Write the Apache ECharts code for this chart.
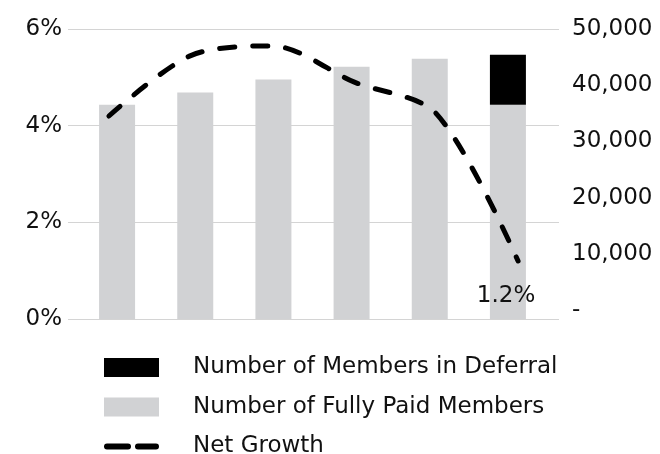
<!DOCTYPE html>
<html><head><meta charset="utf-8">
<script src="https://cdn.jsdelivr.net/npm/echarts@6/dist/echarts.min.js"></script>
<style>html,body{margin:0;padding:0;background:#fff}#c{width:660px;height:454px}</style>
</head><body><div id="c"></div>
<script>
const categories = ['Year 1', 'Year 2', 'Year 3', 'Year 4', 'Year 5', 'Year 6'];
const fullyPaidMembers = [36500, 38700, 41000, 43300, 44700, 36500];
const deferralMembers = [null, null, null, null, null, 8900];
const netGrowthPct = [4.2, 5.45, 5.65, 4.9, 4.25, 1.2];
const pctTicks = [0, 2, 4, 6];
const memberTicks = [0, 10000, 20000, 30000, 40000, 50000];
const memberAxisMin = -1600;
const seriesNames = ['Number of Members in Deferral', 'Number of Fully Paid Members', 'Net Growth'];

const FONT = 'DejaVu Sans';
const FS = 23;
const TXT = '#111111';
const DASH_ICON = 'path://M3,0 H24 A3,3 0 0 1 24,6 H3 A3,3 0 0 1 3,0 Z M34,0 H52 A3,3 0 0 1 52,6 H34 A3,3 0 0 1 34,0 Z';
const chart = echarts.init(document.getElementById('c'), null, {renderer: 'canvas'});
const lastIdx = netGrowthPct.length - 1;
chart.setOption({
  animation: false,
  textStyle: {fontFamily: FONT},
  grid: [
    {left: 68, right: 101, top: 29, bottom: 135},
    {left: 78, right: 113, top: 29, bottom: 135}
  ],
  xAxis: [
    {type: 'category', gridIndex: 0, data: categories, boundaryGap: true,
     axisLine: {show: false}, axisTick: {show: false}, axisLabel: {show: false}, splitLine: {show: false}},
    {type: 'category', gridIndex: 1, data: categories,
     axisLine: {show: false}, axisTick: {show: false}, axisLabel: {show: false}, splitLine: {show: false}}
  ],
  yAxis: [
    {type: 'value', gridIndex: 0, position: 'left',
     min: pctTicks[0], max: pctTicks[pctTicks.length - 1], interval: pctTicks[1] - pctTicks[0],
     axisLine: {show: false}, axisTick: {show: false},
     splitLine: {show: true, lineStyle: {color: '#d4d4d4', width: 1}},
     axisLabel: {formatter: '{value}%', margin: 6, fontSize: FS, color: TXT, fontFamily: FONT}},
    {type: 'value', gridIndex: 0, position: 'right',
     min: memberAxisMin, max: memberTicks[memberTicks.length - 1],
     axisLine: {show: false}, axisTick: {show: false}, splitLine: {show: false},
     axisLabel: {customValues: memberTicks, margin: 13, fontSize: FS, color: TXT, fontFamily: FONT,
       formatter: v => v === 0 ? '-' : v.toLocaleString('en-US')}},
    {type: 'value', gridIndex: 1, min: memberAxisMin, max: memberTicks[memberTicks.length - 1],
     startValue: memberAxisMin, show: false, splitLine: {show: false}}
  ],
  legend: {
    orient: 'vertical', left: 104, top: 356, height: 200, padding: 0,
    itemWidth: 55, itemHeight: 19, itemGap: 16.5,
    textStyle: {fontSize: FS, color: TXT, fontFamily: FONT, padding: [0, 0, 0, 29]},
    data: [
      {name: seriesNames[0], icon: 'rect', itemStyle: {color: '#000000'}},
      {name: seriesNames[1], icon: 'rect', itemStyle: {color: '#d1d2d4'}},
      {name: seriesNames[2], icon: DASH_ICON,
       itemStyle: {color: '#000000', borderWidth: 0, opacity: 1},
       lineStyle: {width: 0, opacity: 0}}
    ]
  },
  series: [
    {name: seriesNames[1], type: 'bar', xAxisIndex: 1, yAxisIndex: 2, stack: 'members',
     barWidth: 36, itemStyle: {color: '#d1d2d4'}, data: fullyPaidMembers},
    {name: seriesNames[0], type: 'bar', xAxisIndex: 1, yAxisIndex: 2, stack: 'members',
     barWidth: 36, itemStyle: {color: '#000000'}, data: deferralMembers},
    {name: seriesNames[2], type: 'line', xAxisIndex: 0, yAxisIndex: 0, smooth: 0.3,
     symbol: 'circle', symbolSize: 0, showSymbol: true, z: 5,
     lineStyle: {color: '#000', width: 5, type: [15, 18], cap: 'round'},
     itemStyle: {color: '#000'},
     data: netGrowthPct.map((v, i) => i === lastIdx ? {
       value: v, symbolSize: 3,
       label: {show: true, position: 'bottom', distance: 22, offset: [-12, 0],
               formatter: p => p.value + '%', fontSize: FS, color: TXT, fontFamily: FONT}
     } : v)}
  ]
});
</script></body></html>
